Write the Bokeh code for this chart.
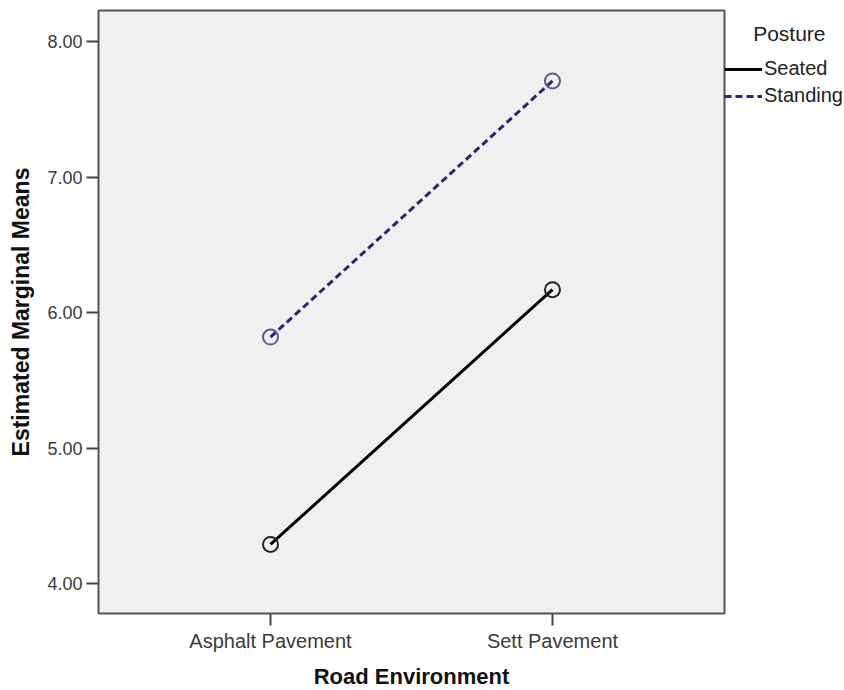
from bokeh.plotting import figure
from bokeh.models import Range1d, FixedTicker, Legend, LegendItem
from bokeh.embed import file_html
from bokeh.resources import INLINE

categories = ["Asphalt Pavement", "Sett Pavement"]
seated = [4.29, 6.17]
standing = [5.82, 7.71]
y_ticks = [4.0, 5.0, 6.0, 7.0, 8.0]
y_tick_labels = ["4.00", "5.00", "6.00", "7.00", "8.00"]

xs = [1, 2]
FONT = "Liberation Sans"

p = figure(frame_width=626, frame_height=603, output_backend="svg", toolbar_location=None,
           x_range=Range1d(0.39, 2.61), y_range=Range1d(3.78, 8.23),
           min_border_left=98, min_border_top=10, min_border_bottom=72, min_border_right=112)

p.background_fill_color = "#f0f0f0"
p.border_fill_color = "white"
p.outline_line_color = "#555555"
p.outline_line_width = 2
p.xgrid.visible = False
p.ygrid.visible = False

for ax in (p.xaxis[0], p.yaxis[0]):
    ax.axis_line_color = None
    ax.major_tick_line_color = "#444444"
    ax.major_tick_line_width = 2
    ax.major_tick_in = 0
    ax.major_tick_out = 12
    ax.minor_tick_line_color = None
    ax.major_label_text_font = FONT
    ax.major_label_text_color = "#3a3a3a"
    ax.axis_label_text_font = FONT
    ax.axis_label_text_font_style = "bold"
    ax.axis_label_text_color = "#111111"

p.xaxis.ticker = FixedTicker(ticks=xs)
p.xaxis.major_label_overrides = {x: c for x, c in zip(xs, categories)}
p.xaxis.axis_label = "Road Environment"
p.xaxis.axis_label_text_font_size = "22px"
p.xaxis.major_label_text_font_size = "20px"
p.xaxis.major_label_standoff = 4
p.xaxis.axis_label_standoff = 9

p.yaxis.ticker = FixedTicker(ticks=y_ticks)
p.yaxis.major_label_overrides = {t: l for t, l in zip(y_ticks, y_tick_labels)}
p.yaxis.major_label_text_font_size = "18px"
p.yaxis.axis_label = "Estimated Marginal Means"
p.yaxis.axis_label_text_font_size = "23px"
p.yaxis.major_label_standoff = 4
p.yaxis.axis_label_standoff = 10

seat_color = "#000000"
stand_color = "#262673"

r1 = p.line(xs, seated, line_color=seat_color, line_width=3)
p.scatter(xs, seated, size=15, fill_color=None, line_color="#222222", line_width=2)
r2 = p.line(xs, standing, line_color=stand_color, line_width=3, line_dash="7 4")
p.scatter(xs, standing, size=15, fill_color=None, line_color="#5a5a8c", line_width=2)

legend = Legend(items=[LegendItem(label="Seated", renderers=[r1]),
                       LegendItem(label="Standing", renderers=[r2])],
                title="\u00a0\u00a0\u00a0\u00a0\u00a0Posture", location=(0, 506))
legend.border_line_color = None
legend.background_fill_alpha = 0
legend.title_text_font = FONT
legend.title_text_font_size = "21px"
legend.title_text_font_style = "normal"
legend.title_text_color = "#222222"
legend.title_standoff = 11
legend.label_text_font = FONT
legend.label_text_font_size = "20px"
legend.label_text_color = "#222222"
legend.glyph_width = 38
legend.glyph_height = 20
legend.label_standoff = 2
legend.spacing = 4
legend.padding = 0
legend.margin = 0
p.add_layout(legend, "right")

open("out.html", "w").write(file_html(p, INLINE))
